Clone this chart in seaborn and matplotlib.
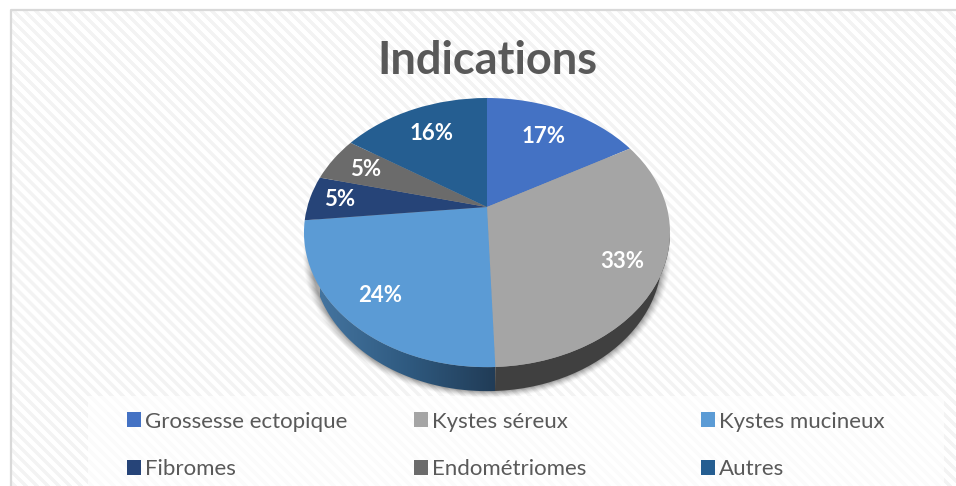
import numpy as np
import matplotlib
matplotlib.use("Agg")
import matplotlib.pyplot as plt
import seaborn as sns
from matplotlib.patches import Polygon, Rectangle
from matplotlib.transforms import Transform

# --- Data ---
categories = ["Grossesse ectopique", "Kystes séreux", "Kystes mucineux",
              "Fibromes", "Endométriomes", "Autres"]
values = [16.8, 32.6, 24.0, 5.4, 5.4, 15.8]

# --- Style ---
colors = ["#4472C4", "#A5A5A5", "#5B9BD5", "#264478", "#6B6B6B", "#255E91"]
label_dist = [0.70, 0.80, 0.80, 0.83, 0.78, 0.72]
TEXT_GREY = "#595959"

# pie geometry, in pixels of the 956x486 canvas
CX, CY = 487, 207
AX_W, AX_H = 179.7, 129.7
TILT = 0.19
DEPTH = 24
BOTTOM_SCALE = 0.956  # lower rim is a bit narrower than the top face

sns.set_theme(style="white")
plt.rcParams["font.family"] = ["Lato", "DejaVu Sans"]


class TiltedPie(Transform):
    """Flat unit circle -> tilted disc seen in perspective."""
    input_dims = 2
    output_dims = 2
    has_inverse = False

    def transform_non_affine(self, xy):
        xy = np.asarray(xy, dtype=float)
        w = 1 + TILT * xy[:, 1]
        return np.column_stack([CX + AX_W * xy[:, 0] / w,
                                CY - AX_H * xy[:, 1] / w])


def rim(start, stop, lower=False, n=80):
    # outline points between two clockwise angles (degrees from the top)
    th = np.radians(np.linspace(start, stop, n))
    pts = TiltedPie().transform_non_affine(np.column_stack([np.sin(th), np.cos(th)]))
    if lower:
        pts[:, 0] = CX + (pts[:, 0] - CX) * BOTTOM_SCALE
        pts[:, 1] += DEPTH
    return pts


fig = plt.figure(figsize=(9.56, 4.86), dpi=100, facecolor="white")
ax = fig.add_axes([0, 0, 1, 1])

# --- Pie ---
wedges, _, autotexts = ax.pie(
    values, colors=colors, startangle=90, counterclock=False,
    autopct="%.0f%%", pctdistance=0.8,
    wedgeprops=dict(linewidth=0),
    textprops=dict(color="white", fontsize=16, fontweight="bold"),
)
ax.set_aspect("auto")
ax.axis("off")

for w in wedges:
    w.set_transform(TiltedPie() + ax.transData)
    w.set_zorder(5)
    w.set_clip_on(False)

for t, pct, r in zip(autotexts, np.cumsum(values) - np.array(values) / 2, label_dist):
    th = np.radians(pct * 3.6)
    pos = TiltedPie().transform_non_affine(np.array([[r * np.sin(th), r * np.cos(th)]]))[0]
    t.set_position(pos)
    t.set_zorder(6)

# --- Panel background: border, diagonal stripes ---
yy, xx = np.mgrid[0:486, 0:956]
stripes = ((xx - yy) % 11 < 5).astype(float)
shade = 1 - 0.045 * stripes
ax.imshow(shade, cmap="gray", vmin=0, vmax=1, extent=(0, 956, 486, 0), zorder=0,
          aspect="auto", interpolation="antialiased")
ax.add_patch(Rectangle((0, 0), 11, 486, fc="white", ec="none", zorder=1))
ax.add_patch(Rectangle((0, 0), 956, 10, fc="white", ec="none", zorder=1))
ax.plot([11, 11, 956], [486, 10, 10], color="#D9D9D9", lw=1.6, zorder=2)

# legend backdrop
ax.add_patch(Rectangle((88, 396), 856, 90, fc="white", alpha=0.72, ec="none", zorder=1))

# --- Side of the disc ---
left_th = 360 - np.degrees(np.arccos(-TILT))
right_th = np.degrees(np.arccos(-TILT))
split = (values[0] + values[1]) * 3.6

# soft shadow under the rim
for grow, a in zip(np.linspace(9, 1, 9), np.linspace(0.02, 0.07, 9)):
    ring = rim(0, 360, lower=True)
    centre = np.array([CX, CY + 26 + DEPTH])
    ring = centre + (ring - centre) * (1 + grow / 180)
    ax.add_patch(Polygon(ring, fc="black", alpha=a, ec="none", zorder=2.5))

grey_side = np.vstack([rim(right_th, split), rim(split, right_th, lower=True)])
ax.add_patch(Polygon(grey_side, fc="#404040", ec="none", zorder=4))

blue_side = Polygon(np.vstack([rim(split, left_th), rim(left_th, split, lower=True)]),
                    fc="none", ec="none", zorder=4)
ax.add_patch(blue_side)
ramp = np.linspace(0, 1, 256).reshape(1, -1)
grad = matplotlib.colors.LinearSegmentedColormap.from_list("side", ["#44749F", "#2F5A80", "#213C57"])
im = ax.imshow(ramp, cmap=grad, extent=(320, 495, 400, 220), aspect="auto", zorder=3.9)
im.set_clip_path(blue_side)

ax.set_xlim(0, 956)
ax.set_ylim(486, 0)

# --- Title ---
ax.text(487, 61, "Indications", ha="center", va="center", fontsize=32.5,
        fontweight="bold", color=TEXT_GREY, zorder=6)

# --- Legend, one block per column ---
for col, x in enumerate([111, 398, 685]):
    idx = [col, col + 3]
    leg = ax.legend([wedges[i] for i in idx], [categories[i] for i in idx],
                    loc="upper left", bbox_to_anchor=(x / 956, 1 - 396 / 486),
                    bbox_transform=fig.transFigure, frameon=False, fontsize=16,
                    labelcolor=TEXT_GREY, handlelength=0.64, handleheight=0.64,
                    handletextpad=0.2, labelspacing=1.25, borderpad=0.2)
    leg.set_zorder(6)
    if col < 2:
        ax.add_artist(leg)

fig.savefig("out.png", dpi=100)
